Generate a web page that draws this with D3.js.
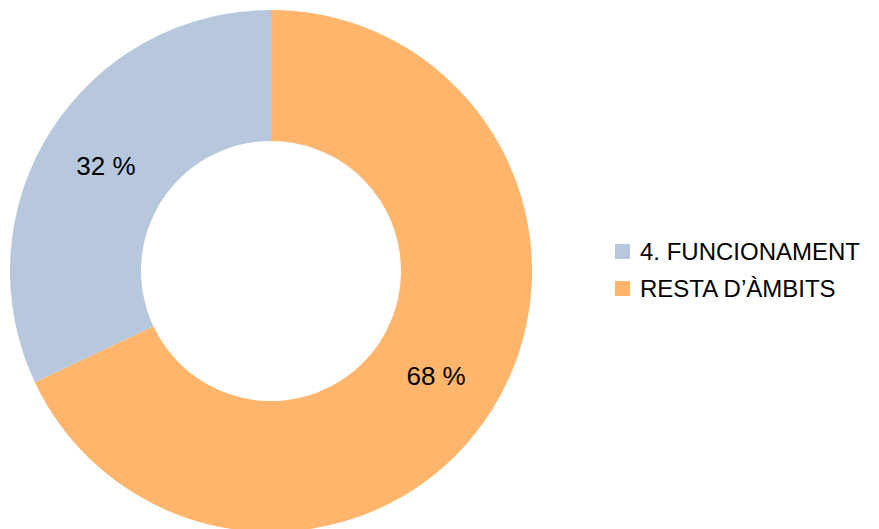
<html>
<head>
<script src="https://d3js.org/d3.v7.min.js"></script>
<style>body{margin:0;background:#fff}</style>
</head>
<body>
<script>
    var width = 879
    var height = 529
    var categories = ['RESTA D\u2019\u00C0MBITS', '4. FUNCIONAMENT']
    var values = [68, 32]
    var labels = ['68 %', '32 %']
    var legendOrder = ['4. FUNCIONAMENT', 'RESTA D\u2019\u00C0MBITS']
    var colors = {'4. FUNCIONAMENT': '#B7C8DE', 'RESTA D\u2019\u00C0MBITS': '#FFB66C'}

    var svg = d3.select('body').append('svg').attr('width', width).attr('height', height)

    var outerR = 261, innerR = 130
    var g = svg.append('g').attr('transform', 'translate(271,271)')

    var pie = d3.pie().sort(null).value(function(d){return d})
    var arcs = pie(values)
    var arc = d3.arc().innerRadius(innerR).outerRadius(outerR)
    var labelArc = d3.arc().innerRadius((innerR+outerR)/2).outerRadius((innerR+outerR)/2)

    g.selectAll('path').data(arcs).enter().append('path')
        .attr('d', arc)
        .attr('fill', function(d,i){return colors[categories[i]]})

    g.selectAll('text').data(arcs).enter().append('text')
        .attr('transform', function(d){var c = labelArc.centroid(d); return 'translate(' + c[0] + ',' + c[1] + ')'})
        .attr('text-anchor', 'middle').attr('dy', '0.35em')
        .style('font-family', 'Liberation Sans, Arial, sans-serif').style('font-size', '26px')
        .attr('fill', '#000')
        .text(function(d,i){return labels[i]})

    var legend = svg.append('g').attr('transform', 'translate(615,244)')
    var items = legend.selectAll('g').data(legendOrder).enter().append('g')
        .attr('transform', function(d,i){return 'translate(0,' + (i*37) + ')'})
    items.append('rect').attr('width', 15).attr('height', 15).attr('fill', function(d){return colors[d]})
    items.append('text').attr('x', 25).attr('y', 7.5).attr('dy', '0.35em')
        .style('font-family', 'Liberation Sans, Arial, sans-serif').style('font-size', '24px')
        .attr('fill', '#000')
        .text(function(d){return d})
</script>
</body>
</html>
